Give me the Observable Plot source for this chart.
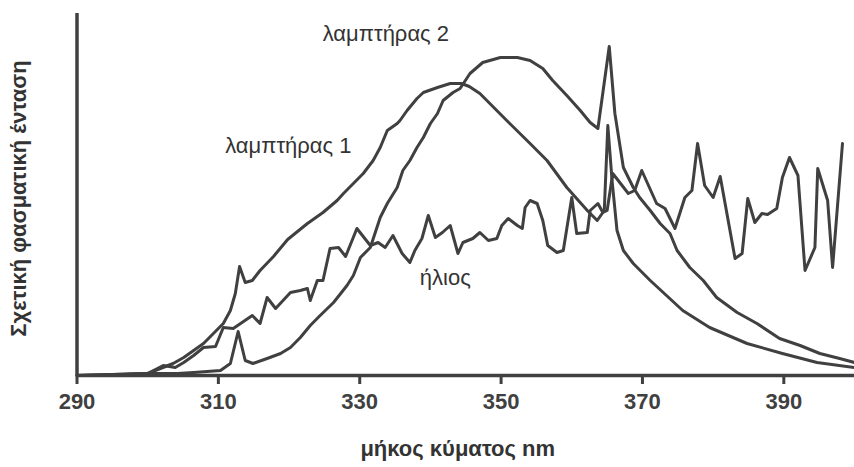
<!DOCTYPE html>
<html>
<head>
<meta charset="utf-8">
<script src="https://cdn.jsdelivr.net/npm/d3@7"></script>
<script src="https://cdn.jsdelivr.net/npm/@observablehq/plot@0.6"></script>
<style>
  html, body { margin: 0; padding: 0; background: #fff; }
  #chart svg { display: block; }
</style>
</head>
<body>
<div id="chart"></div>
<script>
// wavelength (nm), relative intensity (arbitrary units)
const lamp1 = [
  [290, 0], [295, 0.5], [300.0, 2], [301.8, 7], [303.6, 12], [305.1, 18], [306.5, 25],
  [307.9, 32], [309.3, 42], [310.7, 52], [311.7, 65], [312.4, 82], [313.0, 109],
  [313.8, 93], [314.8, 95], [315.9, 105], [317.8, 119], [319.8, 136], [322.6, 152],
  [324.8, 163], [326.8, 175], [327.7, 182], [329.1, 192], [330.5, 202], [331.9, 215],
  [332.9, 228], [333.9, 245], [335.3, 252], [335.7, 255], [336.7, 265], [338.1, 277],
  [339.0, 283], [341.0, 288], [342.8, 292], [344.4, 292], [345.5, 289], [347.0, 282],
  [350.8, 255], [354.1, 232], [356.5, 215], [359.3, 188], [362.2, 165], [363.6, 155],
  [364.6, 165], [365.1, 250], [365.7, 195], [366.4, 145], [367.3, 125], [368.7, 112],
  [371.1, 95], [373.4, 80], [375.7, 65], [379.5, 48], [384.8, 32], [389.8, 22],
  [394.7, 13], [400, 8]
];
const lamp2 = [
  [290, 0], [300.0, 2], [304.2, 2], [306.5, 3], [308.4, 4], [310.3, 5], [311.7, 12],
  [312.8, 44], [313.8, 15], [314.9, 12], [316.9, 17], [318.8, 22], [320.2, 28],
  [321.6, 38], [323.0, 50], [324.4, 60], [326.3, 73], [328.2, 90], [329.1, 100],
  [330.1, 118], [331.5, 128], [332.9, 158], [333.9, 172], [335.3, 188], [336.1, 205],
  [337.1, 215], [338.1, 228], [339.0, 238], [340.0, 252], [341.0, 262], [341.8, 275],
  [343.2, 283], [344.2, 287], [345.6, 302], [347.4, 313], [349.9, 318], [352.3, 318],
  [354.1, 315], [355.9, 307], [357.3, 295], [359.3, 280], [361.2, 265], [362.6, 253],
  [363.7, 247], [365.3, 329], [366.1, 262], [367.3, 208], [368.7, 188], [369.6, 178],
  [371.1, 165], [372.5, 152], [373.9, 142], [374.9, 125], [376.7, 108], [378.6, 95],
  [380.5, 78], [383.4, 63], [386.2, 52], [389.4, 37], [392.3, 30], [395.1, 22],
  [397.9, 17], [400, 13]
];
const sun = [
  [290, 0], [300.0, 2], [302.2, 10], [303.9, 8], [305.1, 13], [306.5, 20], [307.9, 28],
  [309.6, 29], [310.7, 48], [312.1, 47], [314.8, 60], [315.9, 52], [316.9, 78],
  [318.1, 67], [320.2, 83], [321.6, 85], [322.6, 87], [323.0, 75], [324.0, 95],
  [324.8, 95], [325.8, 127], [327.0, 128], [328.0, 119], [329.6, 147], [331.5, 130],
  [332.6, 133], [333.6, 128], [334.7, 140], [336.0, 122], [337.1, 113], [337.8, 125],
  [338.8, 137], [339.7, 160], [340.7, 138], [341.7, 143], [342.8, 150], [343.9, 122],
  [344.6, 133], [346.0, 137], [347.0, 143], [348.2, 135], [349.4, 137], [350.1, 150],
  [351.0, 157], [352.3, 150], [353.0, 147], [353.4, 168], [354.1, 175], [355.1, 172],
  [355.9, 155], [356.6, 130], [357.9, 123], [358.8, 125], [360.0, 178], [360.7, 142],
  [362.2, 143], [362.6, 165], [363.7, 172], [364.4, 163], [365.0, 165], [365.8, 202],
  [368.0, 182], [368.9, 185], [369.9, 205], [372.0, 172], [373.2, 167], [374.6, 147],
  [376.0, 178], [377.0, 185], [377.8, 232], [378.8, 190], [380.0, 178], [381.0, 199],
  [383.1, 117], [384.1, 122], [384.9, 177], [385.9, 153], [386.9, 162], [387.7, 161],
  [389.0, 167], [389.8, 198], [390.8, 218], [392.0, 200], [393.0, 105], [394.4, 128],
  [394.8, 207], [396.2, 175], [396.9, 108], [398.3, 232]
];
const xTicks = [290, 310, 330, 350, 370, 390];
const seriesLabels = [
  {text: "λαμπτήρας 2", x: 333.7, y: 342},
  {text: "λαμπτήρας 1", x: 319.9, y: 230},
  {text: "ήλιος", x: 342.1, y: 98}
];
const xLabel = "μήκος κύματος nm";
const yLabel = "Σχετική φασματική ένταση";

const ink = "#404040";
const lineStyle = {x: d => d[0], y: d => d[1], stroke: ink, strokeWidth: 3, strokeLinejoin: "round"};

const chart = Plot.plot({
  width: 854,
  height: 467,
  marginLeft: 76.5,
  marginRight: 0,
  marginTop: 13,
  marginBottom: 92,
  style: {fontFamily: "'Liberation Sans', Arial, sans-serif", color: ink, background: "#fff"},
  x: {domain: [290, 400]},
  y: {domain: [0, 362], axis: null},
  marks: [
    Plot.line(lamp1, lineStyle),
    Plot.line(lamp2, lineStyle),
    Plot.line(sun, lineStyle),
    Plot.ruleY([0], {stroke: ink, strokeWidth: 3.5}),
    Plot.ruleX([290], {stroke: ink, strokeWidth: 3.5}),
    Plot.axisX(xTicks, {tickSize: 9, tickPadding: 9, strokeWidth: 3, fontSize: 22, fontWeight: "bold", label: null, tickFormat: d => String(d)}),
    Plot.text(seriesLabels, {x: "x", y: "y", text: "text", fontSize: 22, fill: "#333"}),
    Plot.text([xLabel], {frameAnchor: "bottom", dx: -8, dy: 80, fontSize: 22, fontWeight: "bold", fill: "#333"}),
    Plot.text([yLabel], {frameAnchor: "left", textAnchor: "middle", dx: -58, dy: 4, rotate: -90, fontSize: 22, fontWeight: "bold", fill: "#333"})
  ]
});
document.getElementById("chart").appendChild(chart);
</script>
</body>
</html>
